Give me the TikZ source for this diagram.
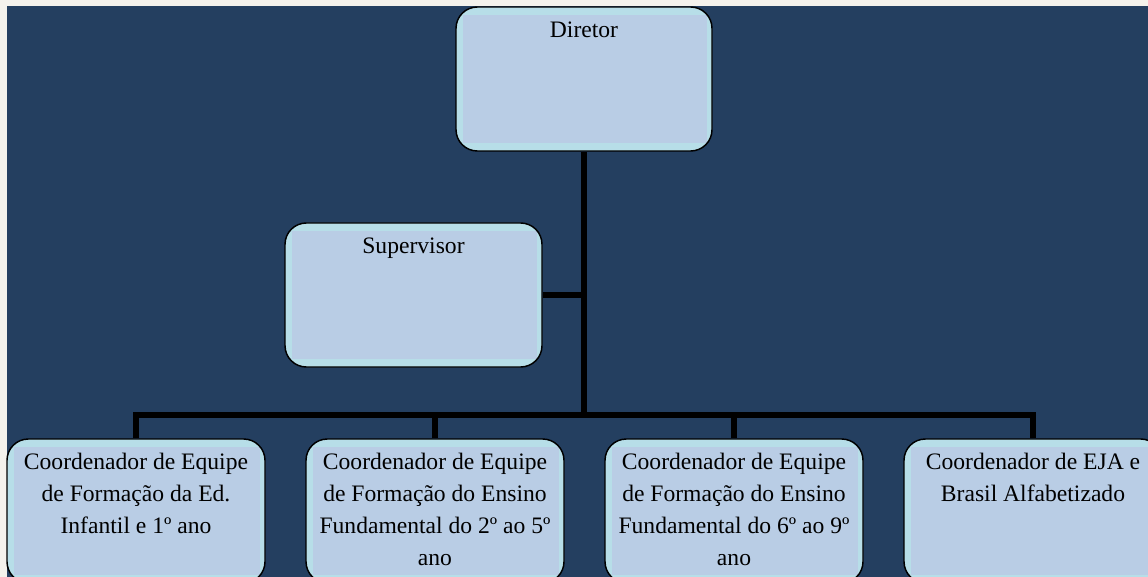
\documentclass[tikz,border=0pt]{standalone}
\usepackage{fontspec}
\setmainfont{Liberation Serif}
\usetikzlibrary{calc}
\definecolor{bg}{HTML}{243F60}
\definecolor{band}{HTML}{B7DEE8}
\definecolor{inner}{HTML}{B9CDE5}
\definecolor{margin}{HTML}{F4F2EC}
\pgfdeclarelayer{bottom}
\pgfdeclarelayer{wires}
\pgfsetlayers{bottom,wires,main}
\begin{document}
\begin{tikzpicture}[x=0.75pt,y=-0.75pt,
  box/.style={rectangle, rounded corners=16pt, draw=black, line width=1.1pt,
    fill=band, minimum width=193.5pt, minimum height=108pt, inner sep=0pt,
    path picture={\fill[inner, sharp corners] ($(path picture bounding box.north west)+(7,8)$) rectangle ($(path picture bounding box.south east)+(-5,-8)$);}},
  conn/.style={draw=black, line width=3.8pt, line join=miter},
  lbl/.style={anchor=north, inner sep=0pt, align=center, text=black,
    font=\fontsize{17.7}{24}\selectfont}]
\useasboundingbox (0,0) rectangle (1148,577);
\clip (0,0) rectangle (1148,577);
\begin{pgfonlayer}{bottom}
\fill[margin] (0,0) rectangle (1148,577);
\fill[bg] (7,6) rectangle (1148,577);
\end{pgfonlayer}

% boxes
\coordinate (bar) at (584,415);
\path (584,79) node[box, minimum width=192pt] (dir) {};
\path (413.5,295) node[box, minimum width=192.75pt] (sup) {};
\path (136,511) node[box] (c1) {};
\path (435,511) node[box] (c2) {};
\path (734,511) node[box] (c3) {};
\path (1033,511) node[box] (c4) {};

% connectors
\begin{pgfonlayer}{wires}
\draw[conn] (dir.south) -- (bar);
\draw[conn] (sup.east) -- (sup.east -| dir.south);
\draw[conn] (c1.north) -- (c1.north |- bar) -- (c4.north |- bar) -- (c4.north);
\draw[conn] (c2.north) -- (c2.north |- bar);
\draw[conn] (c3.north) -- (c3.north |- bar);
\end{pgfonlayer}

% labels
\node[lbl] (tdir) at ($(dir.north)+(0,15)$) {Diretor};
\node[lbl] (tsup) at ($(sup.north)+(0,15)$) {Supervisor};
\node[lbl] (t1) at ($(c1.north)+(0,15)$) {Coordenador de Equipe\\de Formação da Ed.\\Infantil e 1º ano};
\node[lbl] (t2) at ($(c2.north)+(0,15)$) {Coordenador de Equipe\\de Formação do Ensino\\Fundamental do 2º ao 5º\\ano};
\node[lbl] (t3) at ($(c3.north)+(0,15)$) {Coordenador de Equipe\\de Formação do Ensino\\Fundamental do 6º ao 9º\\ano};
\node[lbl] (t4) at ($(c4.north)+(0,15)$) {Coordenador de EJA e\\Brasil Alfabetizado};
\end{tikzpicture}
\end{document}
